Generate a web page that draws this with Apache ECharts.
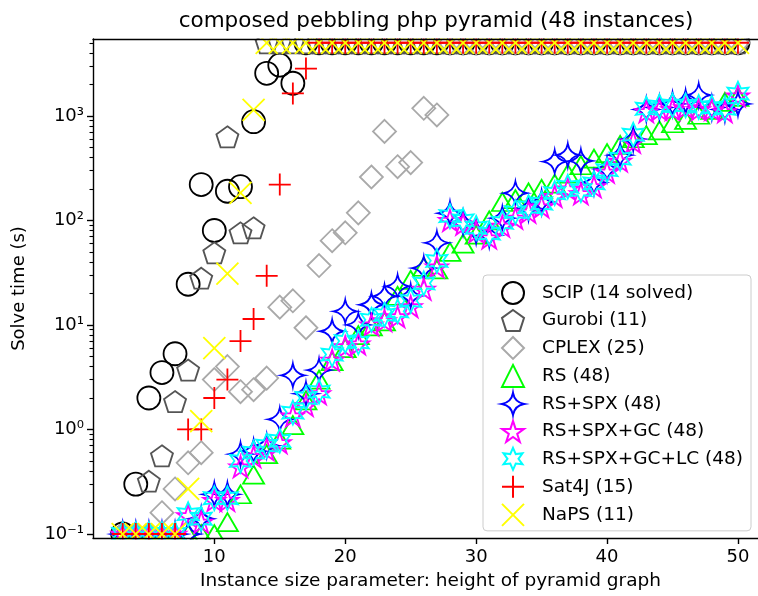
<!DOCTYPE html>
<html><head><meta charset="utf-8">
<script src="https://cdn.jsdelivr.net/npm/echarts@6/dist/echarts.min.js"></script>
<style>html,body{margin:0;padding:0;background:#fff}#c{width:758px;height:596px}</style>
</head><body><div id="c"></div>
<script>
const TO = 5000; // timeout value (unsolved instances)
const sizes = [3,4,5,6,7,8,9,10,11,12,13,14,15,16,17,18,19,20,21,22,23,24,25,26,27,28,29,30,31,32,33,34,35,36,37,38,39,40,41,42,43,44,45,46,47,48,49,50];
const scip = [0.1,0.3,2.0,3.5,5.3,24.5,220,80,190,210,880,2550,3050,2050,
  TO,TO,TO,TO,TO,TO,TO,TO,TO,TO,TO,TO,TO,TO,TO,TO,TO,TO,TO,TO,TO,TO,TO,TO,TO,TO,TO,TO,TO,TO,TO,TO,TO,TO];
const gurobi = [0.1,0.1,0.32,0.56,1.85,3.7,28,49,630,76,85,
  TO,TO,TO,TO,TO,TO,TO,TO,TO,TO,TO,TO,TO,TO,TO,TO,TO,TO,TO,TO,TO,TO,TO,TO,TO,TO,TO,TO,TO,TO,TO,TO,TO,TO,TO,TO,TO];
const cplex = [0.1,0.1,0.1,0.16,0.27,0.48,0.6,3.0,4.0,2.3,2.4,3.1,14.8,17,9.4,37,64,76,118,260,710,326,357,1180,1020,
  TO,TO,TO,TO,TO,TO,TO,TO,TO,TO,TO,TO,TO,TO,TO,TO,TO,TO,TO,TO,TO,TO,TO];
const rs = [0.1,0.1,0.1,0.1,0.1,0.1,0.1,0.1,
  0.13,0.24,0.37,0.58,0.8,1.1,1.9,3.0,4.5,6.0,
  8.0,9.7,10.8,19,27,36,34,50,60,73,
  100,150,160,185,200,225,280,337,390,440,
  527,610,655,727,850,915,1025,1140,1360,1520];
const rsSpx = [0.1,0.1,0.1,0.1,0.1,0.1,
  0.14,0.24,0.24,0.58,0.62,0.7,1.25,3.3,2.2,3.7,
  8.7,13.5,10,15.6,18.8,23.4,19,35,61,117,
  95,78,72,105,182,130,150,365,420,370,
  230,310,420,600,1150,1200,1300,1370,1580,1200,1150,1300];
const rsSpxGc = [0.1,0.1,0.1,0.1,0.1,
  0.15,0.13,0.21,0.21,0.44,0.55,0.64,0.75,1.35,1.7,
  2.2,4.6,6.2,6.6,10,11,12,15,22,36,
  100,92,78,68,88,105,120,135,170,200,
  180,210,290,370,560,1100,1150,1150,1200,1150,1150,1100,1550];
const rsSpxGcLc = [0.1,0.1,0.1,0.1,0.1,
  0.155,0.14,0.22,0.22,0.5,0.6,0.7,0.78,1.45,2.0,
  2.3,5.2,7.0,6.8,11.2,12.5,13.5,17,25,41,
  110,100,85,75,95,120,134,145,182,210,
  195,226,303,390,660,1170,1230,1260,1260,1220,1200,1170,1630];
const sat4j = [0.1,0.1,0.1,0.1,0.1,1.0,1.0,2.0,3.0,7.0,11.4,29.5,220,1640,2830,
  TO,TO,TO,TO,TO,TO,TO,TO,TO,TO,TO,TO,TO,TO,TO,TO,TO,TO,TO,TO,TO,TO,TO,TO,TO,TO,TO,TO,TO,TO,TO,TO,TO];
const naps = [0.1,0.1,0.1,0.1,0.1,0.27,1.2,6.0,31,183,1140,
  TO,TO,TO,TO,TO,TO,TO,TO,TO,TO,TO,TO,TO,TO,TO,TO,TO,TO,TO,TO,TO,TO,TO,TO,TO,TO,TO,TO,TO,TO,TO,TO,TO,TO,TO,TO,TO];
const seriesNames = ['SCIP (14 solved)','Gurobi (11)','CPLEX (25)','RS (48)','RS+SPX (48)','RS+SPX+GC (48)','RS+SPX+GC+LC (48)','Sat4J (15)','NaPS (11)'];
const xTicks = [10,20,30,40,50];
const yTicks = [0.1,1,10,100,1000];
const yTickLabels = ['10\u207B\u00B9','10\u2070','10\u00B9','10\u00B2','10\u00B3'];
const yMinorTicks = [0.2,0.3,0.4,0.5,0.6,0.7,0.8,0.9,2,3,4,5,6,7,8,9,20,30,40,50,60,70,80,90,200,300,400,500,600,700,800,900,2000,3000,4000,5000];

const FONT = 'DejaVu Sans';
const XMIN = 0.733, XMAX = 51.53, YMIN = 0.0916, YMAX = 5433;

const SYM = {
  pentagon: 'path://M0,-1 L0.951,-0.309 L0.588,0.809 L-0.588,0.809 L-0.951,-0.309 Z',
  star5: 'path://M0,-1 L0.2245,-0.309 L0.951,-0.309 L0.3633,0.118 L0.588,0.809 L0,0.382 L-0.588,0.809 L-0.3633,0.118 L-0.951,-0.309 L-0.2245,-0.309 Z',
  star6: 'path://M0,-1 L0.25,-0.433 L0.866,-0.5 L0.5,0 L0.866,0.5 L0.25,0.433 L0,1 L-0.25,0.433 L-0.866,0.5 L-0.5,0 L-0.866,-0.5 L-0.25,-0.433 Z',
  star4: 'path://M0,-10 Q1.5,-1.5 10,0 Q1.5,1.5 0,10 Q-1.5,1.5 -10,0 Q-1.5,-1.5 0,-10 Z',
  plus: 'path://M-1,0 L1,0 M0,-1 L0,1',
  cross: 'path://M-1,-1 L1,1 M-1,1 L1,-1'
};

function mk(name, vals, symbol, size, color) {
  return {
    name: name, type: 'scatter',
    data: sizes.map((n, i) => [n, vals[i]]),
    symbol: symbol, symbolSize: size,
    itemStyle: { color: 'rgba(0,0,0,0)', borderColor: color, borderWidth: 1.8, opacity: 1 },
    emphasis: { disabled: true },
    clip: true
  };
}

const series = [
  mk(seriesNames[0], scip, 'circle', 23, '#000000'),
  mk(seriesNames[1], gurobi, SYM.pentagon, [22, 21], '#555555'),
  mk(seriesNames[2], cplex, 'diamond', [23, 23], '#a9a9a9'),
  mk(seriesNames[3], rs, 'triangle', [21, 18], '#00ff00'),
  mk(seriesNames[4], rsSpx, SYM.star4, [23, 23], '#0000ff'),
  mk(seriesNames[5], rsSpxGc, SYM.star5, [22, 21], '#ff00ff'),
  mk(seriesNames[6], rsSpxGcLc, SYM.star6, [21, 24], '#00ffff'),
  mk(seriesNames[7], sat4j, SYM.plus, [22, 22], '#ff0000'),
  mk(seriesNames[8], naps, SYM.cross, [22, 22], '#ffff00')
];

const chart = echarts.init(document.getElementById('c'), null, { renderer: 'canvas', width: 758, height: 596 });
chart.setOption({
  animation: false,
  backgroundColor: '#ffffff',
  textStyle: { fontFamily: FONT },
  title: {
    text: 'composed pebbling php pyramid (48 instances)',
    left: 431, top: 5, textAlign: 'center',
    textStyle: { fontFamily: FONT, fontSize: 21.5, fontWeight: 'normal', color: '#000' }
  },
  grid: { left: 93, top: 39, bottom: 57, right: 0, containLabel: false },
  xAxis: [{
    type: 'value', min: XMIN, max: XMAX, z: 10,
    name: 'Instance size parameter: height of pyramid graph',
    nameLocation: 'middle', nameGap: 34,
    nameTextStyle: { fontFamily: FONT, fontSize: 18.5, color: '#000', padding: [0, 0, 0, 10] },
    axisLine: { show: true, onZero: false, lineStyle: { color: '#000', width: 1.4 } },
    axisTick: { show: true, length: 6, lineStyle: { color: '#000', width: 1.4 }, customValues: xTicks },
    axisLabel: { fontFamily: FONT, fontSize: 18, color: '#000', margin: 10, customValues: xTicks },
    splitLine: { show: false }
  }, {
    type: 'value', position: 'top', min: XMIN, max: XMAX, z: 10,
    axisLine: { show: true, onZero: false, lineStyle: { color: '#000', width: 1.4 } },
    axisTick: { show: false }, axisLabel: { show: false }, splitLine: { show: false }
  }],
  yAxis: [{
    type: 'log', logBase: 10, min: YMIN, max: YMAX, z: 10,
    name: 'Solve time (s)', nameLocation: 'middle', nameGap: 65, nameRotate: 90,
    nameTextStyle: { fontFamily: FONT, fontSize: 18, color: '#000' },
    axisLine: { show: true, onZero: false, lineStyle: { color: '#000', width: 1.4 } },
    axisTick: { show: true, length: 6, lineStyle: { color: '#000', width: 1.4 }, customValues: yTicks },
    axisLabel: {
      fontFamily: FONT, fontSize: 18, color: '#000', margin: 9, customValues: yTicks,
      formatter: function (v) { const e = Math.round(Math.log10(v)); return yTickLabels[e + 1]; }
    },
    splitLine: { show: false }
  }, {
    type: 'log', logBase: 10, min: YMIN, max: YMAX, position: 'left', offset: 0, z: 10,
    axisLine: { show: false },
    axisTick: { show: true, length: 3.5, lineStyle: { color: '#000', width: 1.1 }, customValues: yMinorTicks },
    axisLabel: { show: false }, splitLine: { show: false }
  }],
  legend: {
    orient: 'vertical', left: 483, top: 275,
    data: seriesNames,
    itemWidth: 22, itemHeight: 22, itemGap: 4,
    padding: [6, 8, 4, 18],
    backgroundColor: 'rgba(255,255,255,0.8)', borderColor: '#cccccc', borderWidth: 1, borderRadius: 4,
    textStyle: { fontFamily: FONT, fontSize: 18.5, lineHeight: 20, color: '#000', padding: [0, 0, 0, 13] },
    selectedMode: false, z: 12
  },
  graphic: [
    { type: 'rect', z: 3, shape: { x: 0, y: 0, width: 758, height: 38.4 }, style: { fill: '#fff' } },
    { type: 'rect', z: 3, shape: { x: 0, y: 539.6, width: 758, height: 60 }, style: { fill: '#fff' } },
    { type: 'rect', z: 3, shape: { x: 0, y: 0, width: 92.4, height: 596 }, style: { fill: '#fff' } }
  ],
  series: series
});
</script>
</body></html>
